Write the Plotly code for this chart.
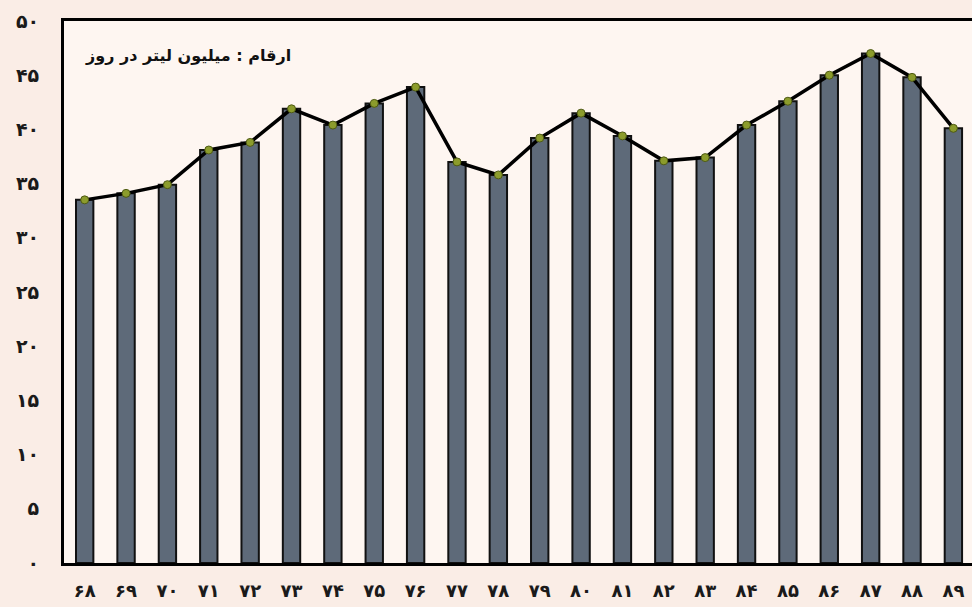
import plotly.graph_objects as go

years = ["۶۸", "۶۹", "۷۰", "۷۱", "۷۲", "۷۳", "۷۴", "۷۵", "۷۶", "۷۷", "۷۸",
         "۷۹", "۸۰", "۸۱", "۸۲", "۸۳", "۸۴", "۸۵", "۸۶", "۸۷", "۸۸", "۸۹"]
values = [33.5, 34.1, 34.9, 38.1, 38.8, 41.9, 40.4, 42.4, 43.9, 37.0, 35.8,
          39.2, 41.5, 39.4, 37.1, 37.4, 40.4, 42.6, 45.0, 47.0, 44.8, 40.1]
y_ticks = [0, 5, 10, 15, 20, 25, 30, 35, 40, 45, 50]
y_ticktext = ["۰", "۵", "۱۰", "۱۵", "۲۰", "۲۵", "۳۰", "۳۵", "۴۰", "۴۵", "۵۰"]
title_text = "ارقام : میلیون لیتر در روز"

FONT = "DejaVu Sans"
PAPER = "#FAEDE6"

fig = go.Figure()
fig.add_trace(go.Bar(
    x=years, y=values, width=0.42,
    marker=dict(color="#5E6A79", line=dict(color="#111111", width=2)),
    showlegend=False,
))
fig.add_trace(go.Scatter(
    x=years, y=values, mode="lines+markers",
    line=dict(color="#000000", width=3.5),
    marker=dict(color="#8C9C2C", size=8, line=dict(color="#4E5A14", width=1)),
    showlegend=False,
))

fig.update_layout(
    width=972, height=607,
    margin=dict(l=64, r=0, t=21, b=44),
    paper_bgcolor=PAPER,
    plot_bgcolor="#FEF6F1",
    xaxis=dict(
        type="category", range=[-0.5, 21.45],
        showgrid=False, showline=True, linecolor="#000000", linewidth=3,
        mirror=True, ticks="", ticklabelstandoff=9,
        tickfont=dict(family=FONT, size=18, color="#1a1a1a", weight="bold"),
    ),
    yaxis=dict(
        range=[0, 50], tickvals=y_ticks, ticktext=y_ticktext,
        showgrid=False, zeroline=False, showline=True, linecolor="#000000", linewidth=3,
        ticks="", ticklabelstandoff=18,
        tickfont=dict(family=FONT, size=19, color="#1a1a1a", weight="bold"),
    ),
    annotations=[dict(
        text=title_text, xref="paper", yref="paper",
        x=(293 - 64) / 908, y=1 - (55 - 21) / 542,
        xanchor="right", yanchor="middle", showarrow=False,
        font=dict(family=FONT, size=16, color="#111111", weight="bold"),
    )],
)

fig.write_html(
    "out.html",
    config={"displayModeBar": False},
    post_script="document.body.style.margin='0px';document.body.style.background='" + PAPER + "';",
)
